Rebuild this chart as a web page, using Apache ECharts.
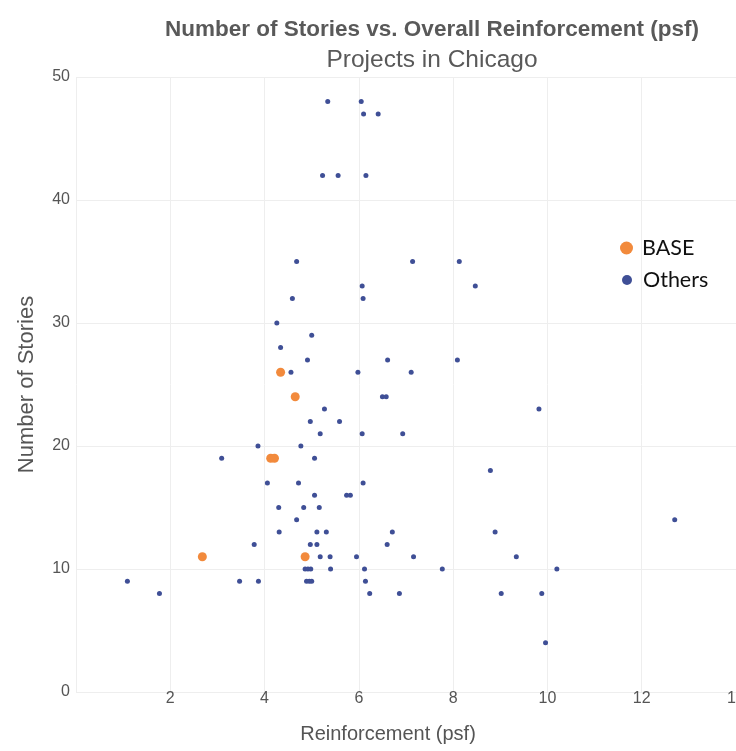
<!DOCTYPE html>
<html>
<head>
<meta charset="utf-8">
<script src="https://cdn.jsdelivr.net/npm/echarts@6/dist/echarts.min.js"></script>
<style>html,body{margin:0;padding:0;background:#fff;overflow:hidden;}#c{width:736px;height:751px;}</style>
</head>
<body>
<div id="c"></div>
<script>
const titleText = 'Number of Stories vs. Overall Reinforcement (psf)';
const subtitleText = 'Projects in Chicago';
const xAxisName = 'Reinforcement (psf)';
const yAxisName = 'Number of Stories';
const seriesNames = ['BASE', 'Others'];

const baseX = [4.34, 4.65, 4.13, 4.21, 2.68, 4.86];
const baseY = [26, 24, 19, 19, 11, 11];

const othersX = [
  5.34, 6.05,
  6.10, 6.41,
  5.23, 5.56, 6.15,
  4.68, 7.14, 8.13,
  6.07, 8.47,
  4.59, 6.09,
  4.26,
  5.00,
  4.34,
  4.91, 6.61, 8.09,
  4.56, 5.98, 7.11,
  6.50, 6.58,
  5.27, 9.82,
  4.97, 5.59,
  5.18, 6.07, 6.93,
  3.86, 4.77,
  3.09, 5.06,
  8.79,
  4.06, 4.72, 6.09,
  5.06, 5.74, 5.82,
  4.30, 4.83, 5.16,
  4.68, 12.70,
  4.31, 5.11, 5.31, 6.71, 8.89,
  3.78, 4.97, 5.11, 6.60,
  5.18, 5.39, 5.95, 7.16, 9.34,
  4.86, 4.92, 4.98, 5.40, 6.12, 7.77, 10.20,
  1.09, 3.47, 3.87, 4.89, 4.95, 5.00, 6.14,
  1.77, 6.23, 6.86, 9.02, 9.88,
  9.96
];
const othersY = [
  48, 48,
  47, 47,
  42, 42, 42,
  35, 35, 35,
  33, 33,
  32, 32,
  30,
  29,
  28,
  27, 27, 27,
  26, 26, 26,
  24, 24,
  23, 23,
  22, 22,
  21, 21, 21,
  20, 20,
  19, 19,
  18,
  17, 17, 17,
  16, 16, 16,
  15, 15, 15,
  14, 14,
  13, 13, 13, 13, 13,
  12, 12, 12, 12,
  11, 11, 11, 11, 11,
  10, 10, 10, 10, 10, 10, 10,
  9, 9, 9, 9, 9, 9, 9,
  8, 8, 8, 8, 8,
  4
];

const xMin = 0, xMax = 14, xStep = 2;
const yMin = 0, yMax = 50, yStep = 10;

const sans = '"Liberation Sans", Arial, sans-serif';

const chart = echarts.init(document.getElementById('c'), null, {renderer: 'canvas'});
chart.setOption({
  backgroundColor: '#ffffff',
  animation: false,
  title: {
    text: titleText,
    subtext: subtitleText,
    left: 427,
    top: 13,
    textAlign: 'center',
    itemGap: 7,
    textStyle: {fontFamily: sans, fontSize: 22.5, fontWeight: 'bold', color: '#595959'},
    subtextStyle: {fontFamily: sans, fontSize: 24.5, fontWeight: 'normal', color: '#595959'}
  },
  legend: [
    {
      data: [seriesNames[0]],
      left: 615, top: 232,
      icon: 'circle', itemWidth: 13, itemHeight: 13,
      textStyle: {fontFamily: 'Lato, sans-serif', fontSize: 21.5, color: '#111', padding: [0, 0, 0, 4]}
    },
    {
      data: [seriesNames[1]],
      left: 617, top: 264,
      icon: 'circle', itemWidth: 10, itemHeight: 10,
      textStyle: {fontFamily: 'Lato, sans-serif', fontSize: 21.5, color: '#111', padding: [0, 0, 0, 6]}
    }
  ],
  grid: {left: 76, right: 0, top: 77, bottom: 59, containLabel: false, outerBoundsMode: 'none'},
  xAxis: {
    type: 'value', min: xMin, max: xMax, interval: xStep,
    name: xAxisName, nameLocation: 'middle', nameGap: 32,
    nameTextStyle: {fontFamily: sans, fontSize: 20, color: '#555', padding: [0, 36, 0, 0]},
    axisLine: {show: false}, axisTick: {show: false},
    axisLabel: {fontFamily: sans, fontSize: 16, color: '#555', margin: -1, showMinLabel: false, showMaxLabel: true},
    splitLine: {show: true, lineStyle: {color: '#eeeeee', width: 1}}
  },
  yAxis: {
    type: 'value', min: yMin, max: yMax, interval: yStep,
    name: yAxisName, nameLocation: 'middle', nameGap: 38,
    nameTextStyle: {fontFamily: sans, fontSize: 22, color: '#555'},
    axisLine: {show: false}, axisTick: {show: false},
    axisLabel: {fontFamily: sans, fontSize: 16, color: '#555', margin: 6},
    splitLine: {show: true, lineStyle: {color: '#eeeeee', width: 1}}
  },
  series: [
    {
      name: seriesNames[1], type: 'scatter', symbol: 'circle', symbolSize: 5,
      itemStyle: {color: '#3f4f96', opacity: 1},
      data: othersX.map((x, i) => [x, othersY[i]]), z: 2
    },
    {
      name: seriesNames[0], type: 'scatter', symbol: 'circle', symbolSize: 9,
      itemStyle: {color: '#f28a3c', opacity: 1},
      data: baseX.map((x, i) => [x, baseY[i]]), z: 3
    }
  ]
});
</script>
</body>
</html>
